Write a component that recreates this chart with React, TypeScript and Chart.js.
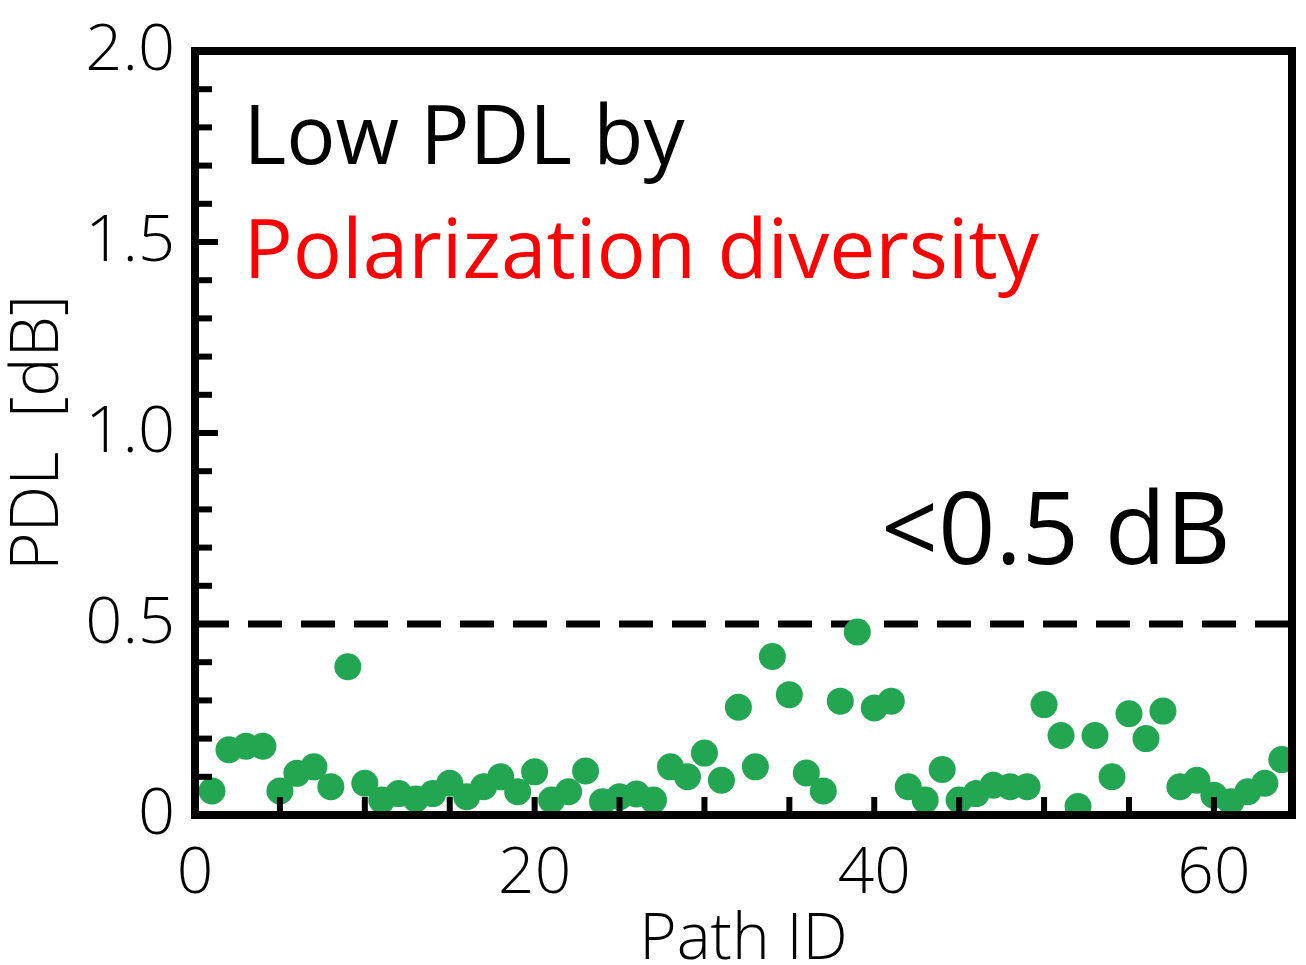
import React, { useEffect, useRef } from "react";
import { Chart, registerables } from "chart.js";

Chart.register(...registerables);

const pathIds = [
  1, 2, 3, 4, 5, 6, 7, 8, 9, 10, 11, 12, 13, 14, 15, 16,
  17, 18, 19, 20, 21, 22, 23, 24, 25, 26, 27, 28, 29, 30, 31, 32,
  33, 34, 35, 36, 37, 38, 39, 40, 41, 42, 43, 44, 45, 46, 47, 48,
  49, 50, 51, 52, 53, 54, 55, 56, 57, 58, 59, 60, 61, 62, 63, 64,
];
const pdlValues = [
  0.063, 0.171, 0.18, 0.18, 0.063, 0.109, 0.126, 0.074, 0.388, 0.083, 0.039, 0.056, 0.042, 0.056, 0.083, 0.048,
  0.074, 0.1, 0.061, 0.113, 0.039, 0.061, 0.115, 0.035, 0.048, 0.055, 0.039, 0.126, 0.1, 0.162, 0.091, 0.282,
  0.126, 0.415, 0.315, 0.11, 0.063, 0.298, 0.479, 0.28, 0.298, 0.074, 0.039, 0.119, 0.039, 0.056, 0.078, 0.074,
  0.074, 0.289, 0.208, 0.022, 0.208, 0.1, 0.265, 0.2, 0.272, 0.074, 0.091, 0.052, 0.035, 0.061, 0.083, 0.145,
];
const thresholdX = [0, 64.6];
const thresholdY = [0.5, 0.5];
const yMinorTicks = [0.1, 0.2, 0.3, 0.4, 0.6, 0.7, 0.8, 0.9, 1.1, 1.2, 1.3, 1.4, 1.6, 1.7, 1.8, 1.9];
const yMajorTicks = [0.5, 1.0, 1.5];
const xMinorTicks = [5, 10, 15, 20, 25, 30, 35, 40, 45, 50, 55, 60];
const annotationTexts = ["Low PDL by", "Polarization diversity", "<0.5 dB"];
const annotationColors = ["#000000", "#ff0000", "#000000"];
const annotationSizes = [82, 82, 100];
const annotationX = [2.85, 2.85, 40.4];
const annotationY = [1.704, 1.406, 0.656];

const FONT = "'Open Sans', 'Noto Sans', sans-serif";

const decorPlugin = {
  id: "decor",
  afterDatasetsDraw(chart: any) {
    const { ctx, chartArea: a, scales } = chart;
    const x = scales.x;
    const y = scales.y;
    ctx.save();
    ctx.fillStyle = "#000";
    for (const v of yMinorTicks) {
      const py = y.getPixelForValue(v);
      ctx.fillRect(a.left, py - 3, 17, 6);
    }
    for (const v of yMajorTicks) {
      const py = y.getPixelForValue(v);
      ctx.fillRect(a.left, py - 3, 23, 6);
    }
    for (const v of xMinorTicks) {
      const px = x.getPixelForValue(v);
      ctx.fillRect(px - 3, a.bottom - 18, 6, 18);
    }
    ctx.strokeStyle = "#000";
    ctx.lineWidth = 8;
    ctx.strokeRect(a.left, a.top, a.right - a.left, a.bottom - a.top);

    ctx.textAlign = "left";
    ctx.textBaseline = "alphabetic";
    for (let i = 0; i < annotationTexts.length; i++) {
      ctx.font = `${annotationSizes[i]}px ${FONT}`;
      ctx.fillStyle = annotationColors[i];
      ctx.fillText(
        annotationTexts[i],
        x.getPixelForValue(annotationX[i]),
        y.getPixelForValue(annotationY[i])
      );
    }
    ctx.restore();
  },
};

export default function App() {
  const canvasRef = useRef<HTMLCanvasElement | null>(null);

  useEffect(() => {
    if (!canvasRef.current) return;
    const chart = new Chart(canvasRef.current, {
      type: "scatter",
      data: {
        datasets: [
          {
            label: "PDL",
            data: pathIds.map((id, i) => ({ x: id, y: pdlValues[i] })),
            backgroundColor: "#22a652",
            borderWidth: 0,
            pointRadius: 13.5,
            pointHoverRadius: 13.5,
            order: 0,
          },
          {
            type: "line",
            label: "0.5 dB",
            data: thresholdX.map((v, i) => ({ x: v, y: thresholdY[i] })),
            borderColor: "#000",
            borderWidth: 7,
            borderDash: [34, 19],
            pointRadius: 0,
            showLine: true,
            fill: false,
            order: 1,
          } as any,
        ],
      },
      options: {
        animation: false,
        responsive: true,
        maintainAspectRatio: false,
        layout: { padding: { top: 36, right: 14, bottom: 0, left: 0 } },
        plugins: {
          legend: { display: false },
          tooltip: { enabled: false },
        },
        scales: {
          x: {
            type: "linear",
            min: 0,
            max: 64.6,
            grid: { display: false },
            border: { display: false },
            ticks: {
              stepSize: 20,
              includeBounds: false,
              color: "#000",
              padding: 13,
              font: { family: FONT, size: 64, weight: "300" },
              callback: (v: any) => (Number(v) % 20 === 0 ? String(v) : ""),
            },
            title: {
              display: true,
              text: "Path ID",
              color: "#000",
              font: { family: FONT, size: 64, weight: "300", lineHeight: 0.75 },
              padding: { top: 0, bottom: 0 },
            },
            afterFit: (s: any) => {
              s.height = 150;
            },
          },
          y: {
            type: "linear",
            min: 0,
            max: 2,
            grid: { display: false },
            border: { display: false },
            ticks: {
              stepSize: 0.5,
              color: "#000",
              padding: 12,
              font: { family: FONT, size: 65, weight: "300" },
              callback: (v: any) => (Number(v) === 0 ? "0" : Number(v).toFixed(1)),
            },
            title: {
              display: true,
              text: "PDL  [dB]",
              color: "#000",
              font: { family: FONT, size: 66, weight: "300" },
              padding: { top: 0, bottom: 0 },
            },
            afterFit: (s: any) => {
              s.width = 195;
            },
          },
        },
      },
      plugins: [decorPlugin],
    });
    return () => chart.destroy();
  }, []);

  return (
    <div
      style={{
        position: "fixed",
        left: 0,
        top: 0,
        width: 1306,
        height: 965,
        background: "#fff",
      }}
    >
      <canvas ref={canvasRef} />
    </div>
  );
}
